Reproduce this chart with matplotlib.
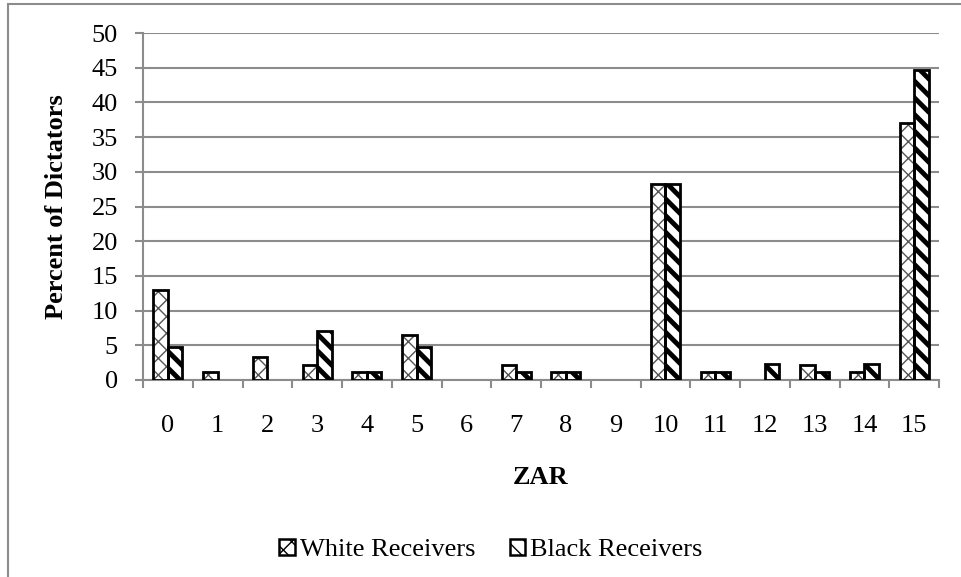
import numpy as np
import matplotlib
matplotlib.use("Agg")
import matplotlib.pyplot as plt
from matplotlib.patches import Rectangle, Patch

# ZAR amounts offered and share of dictators (%) by receiver race
categories = [str(i) for i in range(16)]
white_receivers = [13.04, 1.09, 3.26, 2.17, 1.09, 6.52, 0.0, 2.17, 1.09, 0.0,
                   28.26, 1.09, 0.0, 2.17, 1.09, 36.96]
black_receivers = [4.71, 0.0, 0.0, 7.06, 1.18, 4.71, 0.0, 1.18, 1.18, 0.0,
                   28.24, 1.18, 2.35, 1.18, 2.35, 44.71]
y_ticks = list(range(0, 51, 5))

plt.rcParams["font.family"] = ["Liberation Serif", "DejaVu Serif"]
FS = 19
GRAY = "#8c8c8c"

fig = plt.figure(figsize=(9.62, 5.77), dpi=100)
W, H = 962, 577
ax = fig.add_axes([143 / W, 1 - 380 / H, (939 - 143) / W, (380 - 33) / H])

x = np.arange(len(categories))
bw = 0.29


def hatched_bars(xpos, vals, hatch, hatch_color, hatch_lw):
    with plt.rc_context({"hatch.linewidth": hatch_lw}):
        fill = ax.bar(xpos, vals, bw, color="white", edgecolor=hatch_color,
                      hatch=hatch, linewidth=0, zorder=3)
    for p in fill:
        if hasattr(p, "set_hatch_linewidth"):
            p.set_hatch_linewidth(hatch_lw)
    outline = ax.bar(xpos, vals, bw, color="none", edgecolor="black",
                     linewidth=2.0, zorder=4)
    # empty categories get no visible mark
    for p, v in zip(outline, vals):
        if v == 0:
            p.set_linewidth(0)


hatched_bars(x - bw / 2, white_receivers, "xx", "#555555", 1.0)
hatched_bars(x + bw / 2, black_receivers, "\\\\", "black", 3.5)

ax.set_xlim(-0.5, len(categories) - 0.5)
ax.set_ylim(0, 50)
ax.set_yticks(y_ticks)
ax.set_yticklabels([str(t) for t in y_ticks], fontsize=FS)
ax.set_xticks(x)
ax.set_xticklabels(categories, fontsize=FS)
ax.set_xticks(np.arange(-0.5, len(categories)), minor=True)
ax.tick_params(axis="x", which="major", length=0, pad=25)
ax.tick_params(axis="x", which="minor", length=6, width=1.5, color=GRAY,
               direction="out")
ax.tick_params(axis="y", length=6, width=1.5, color=GRAY, direction="out",
               pad=12)

ax.grid(axis="y", color=GRAY, linewidth=1.5, zorder=0)
ax.set_axisbelow(True)
for side in ("top", "right"):
    ax.spines[side].set_visible(False)
for side in ("left", "bottom"):
    ax.spines[side].set_color(GRAY)
    ax.spines[side].set_linewidth(1.5)

fig.text(57 / W, 1 - 207 / H, "Percent of Dictators", rotation=90,
         ha="center", va="center", fontsize=FS, fontweight="bold")
fig.text(541 / W, 1 - 477 / H, "ZAR", ha="center", va="center",
         fontsize=FS, fontweight="bold")

with plt.rc_context({"hatch.linewidth": 1.0}):
    h1 = Patch(facecolor="white", edgecolor="black", hatch="xx", linewidth=1.8)
with plt.rc_context({"hatch.linewidth": 5.0}):
    h2 = Patch(facecolor="white", edgecolor="black", hatch="\\\\", linewidth=1.8)
for h, lw in ((h1, 1.0), (h2, 5.0)):
    if hasattr(h, "set_hatch_linewidth"):
        h.set_hatch_linewidth(lw)
fig.legend([h1, h2], ["White Receivers", "Black Receivers"],
           loc="center", bbox_to_anchor=(491 / W, 1 - 550 / H), ncol=2,
           frameon=False, fontsize=FS, handlelength=0.58, handleheight=0.58,
           handletextpad=0.2, columnspacing=1.3, borderpad=0)

fig.add_artist(Rectangle((8 / W, -0.1), 1.2, 1 - 4 / H + 0.1,
                         transform=fig.transFigure, fill=False,
                         edgecolor=GRAY, linewidth=1.5))

fig.savefig("out.png", dpi=100)
